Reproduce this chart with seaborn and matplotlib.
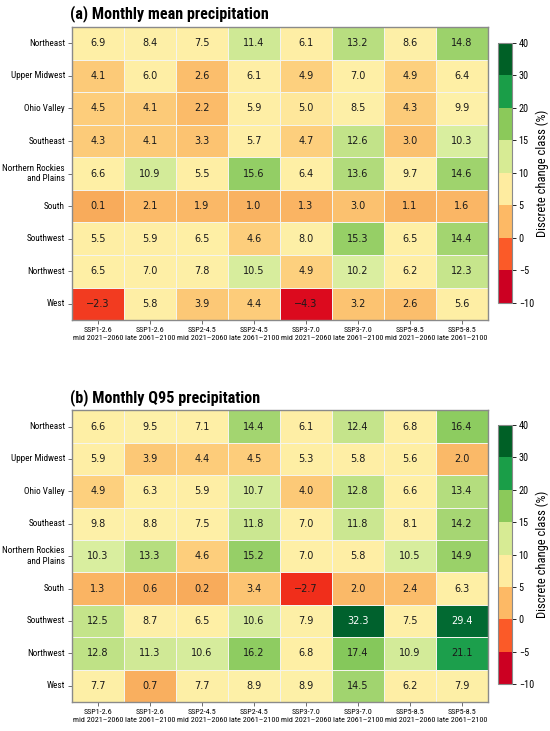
import numpy as np
import pandas as pd
import matplotlib
matplotlib.use("Agg")
import matplotlib.pyplot as plt
import matplotlib.colors as mcolors
import matplotlib.cm as cm
from matplotlib import font_manager
import seaborn as sns

regions = ["Northeast", "Upper Midwest", "Ohio Valley", "Southeast",
           "Northern Rockies\nand Plains", "South", "Southwest", "Northwest", "West"]
periods = ["SSP1-2.6\nmid 2021\u20132060", "SSP1-2.6\nlate 2061\u20132100",
           "SSP2-4.5\nmid 2021\u20132060", "SSP2-4.5\nlate 2061\u20132100",
           "SSP3-7.0\nmid 2021\u20132060", "SSP3-7.0\nlate 2061\u20132100",
           "SSP5-8.5\nmid 2021\u20132060", "SSP5-8.5\nlate 2061\u20132100"]

# (a) monthly mean precipitation change (%)
mean_precip = [
    [6.9, 8.4, 7.5, 11.4, 6.1, 13.2, 8.6, 14.8],
    [4.1, 6.0, 2.6, 6.1, 4.9, 7.0, 4.9, 6.4],
    [4.5, 4.1, 2.2, 5.9, 5.0, 8.5, 4.3, 9.9],
    [4.3, 4.1, 3.3, 5.7, 4.7, 12.6, 3.0, 10.3],
    [6.6, 10.9, 5.5, 15.6, 6.4, 13.6, 9.7, 14.6],
    [0.1, 2.1, 1.9, 1.0, 1.3, 3.0, 1.1, 1.6],
    [5.5, 5.9, 6.5, 4.6, 8.0, 15.3, 6.5, 14.4],
    [6.5, 7.0, 7.8, 10.5, 4.9, 10.2, 6.2, 12.3],
    [-2.3, 5.8, 3.9, 4.4, -4.3, 3.2, 2.6, 5.6],
]

# (b) monthly Q95 precipitation change (%)
q95_precip = [
    [6.6, 9.5, 7.1, 14.4, 6.1, 12.4, 6.8, 16.4],
    [5.9, 3.9, 4.4, 4.5, 5.3, 5.8, 5.6, 2.0],
    [4.9, 6.3, 5.9, 10.7, 4.0, 12.8, 6.6, 13.4],
    [9.8, 8.8, 7.5, 11.8, 7.0, 11.8, 8.1, 14.2],
    [10.3, 13.3, 4.6, 15.2, 7.0, 5.8, 10.5, 14.9],
    [1.3, 0.6, 0.2, 3.4, -2.7, 2.0, 2.4, 6.3],
    [12.5, 8.7, 6.5, 10.6, 7.9, 32.3, 7.5, 29.4],
    [12.8, 11.3, 10.6, 16.2, 6.8, 17.4, 10.9, 21.1],
    [7.7, 0.7, 7.7, 8.9, 8.9, 14.5, 6.2, 7.9],
]

class_bounds = [-10, -5, 0, 5, 10, 15, 20, 30, 40]
class_colors = ["#cc0022", "#fb5a28", "#fdb965", "#feeca0",
                "#d7eb94", "#8bc95a", "#1a9e48", "#006026"]

# cell colours: graded inside a class, stepped at 5 and 10
cell_nodes = [(-10, "#c4001f"), (-4.3, "#dc0a1e"), (-2.5, "#f2321b"),
              (0, "#f8aa5a"), (2.5, "#fbbd6b"), (4.99, "#fdd17f"),
              (5.0, "#feeea4"), (9.99, "#fdf0a8"), (10.0, "#dcefa2"),
              (12.5, "#c4e48a"), (15, "#98d068"), (17.5, "#84c85a"),
              (20, "#20a550"), (25, "#0d8a40"), (30, "#006630"), (40, "#005024")]
cell_cmap = mcolors.LinearSegmentedColormap.from_list(
    "cells", [((v + 10) / 50.0, c) for v, c in cell_nodes], N=2048)

# pick a narrow sans if there is one
installed = {f.name for f in font_manager.fontManager.ttflist}
narrow = [n for n in ["Roboto Condensed", "DejaVu Sans Condensed",
                      "Liberation Sans Narrow", "Open Sans Condensed", "Lato"]
          if n in installed][:1] + ["DejaVu Sans"]

fig = plt.figure(figsize=(5.5, 7.31), dpi=100)
renderer = fig.canvas.get_renderer()


def fit_size(text, target_px, weight="normal"):
    t = fig.text(0, 0, text, fontsize=10, family=narrow, fontweight=weight)
    w = t.get_window_extent(renderer).width
    t.remove()
    return 10 * target_px / w


title_fs = fit_size("(a) Monthly mean precipitation", 199, "bold")
ylab_fs = min(fit_size("Northeast", 39), fit_size("Northern Rockies", 62), 8)
xlab_fs = min(fit_size("late 2061\u20132100", 49), 8)
cbtick_fs = min(fit_size("40", 10), 8)
cblab_fs = min(fit_size("Discrete change class (%)", 150), 9)


def draw_panel(ax, cax, data, title):
    df = pd.DataFrame(data, index=regions, columns=periods)
    labels = df.map(lambda v: f"{v:.1f}".replace("-", "\u2212"))
    sns.heatmap(df, ax=ax, cmap=cell_cmap, vmin=-10, vmax=40,
                annot=labels, fmt="", cbar=False,
                linewidths=0.4, linecolor="#f4f4ee",
                annot_kws={"size": 7, "color": "#1a1a1a", "family": "DejaVu Sans"})
    for t, v in zip(ax.texts, df.values.ravel()):
        t.set_color("white" if v > 25 else "#1a1a1a")

    for s in ax.spines.values():
        s.set_visible(True)
        s.set_color("#8a8a8a")
        s.set_linewidth(1)
    ax.tick_params(axis="both", length=3, width=0.6, color="#555555", pad=2)
    ax.set_yticklabels(regions, rotation=0, family=narrow, fontsize=ylab_fs)
    ax.set_xticklabels(periods, rotation=0, family=narrow, fontsize=xlab_fs,
                       linespacing=1.35)
    ax.set_xlabel("")
    ax.set_ylabel("")
    ax.set_title(title, loc="left", x=-0.005, pad=6, fontsize=title_fs,
                 fontweight="bold", family=narrow)

    sm = cm.ScalarMappable(norm=mcolors.BoundaryNorm(class_bounds, len(class_colors)),
                           cmap=mcolors.ListedColormap(class_colors))
    cb = plt.colorbar(sm, cax=cax, ticks=class_bounds, spacing="uniform")
    cb.outline.set_edgecolor("#8a8a8a")
    cb.outline.set_linewidth(0.8)
    cax.tick_params(length=3, width=0.6, labelsize=cbtick_fs, pad=2)
    for lab in cax.get_yticklabels():
        lab.set_family(narrow)
    cb.set_label("Discrete change class (%)", fontsize=cblab_fs, family=narrow,
                 labelpad=1)


ax_a = fig.add_axes([0.131, 0.562, 0.756, 0.401])
cax_a = fig.add_axes([0.905, 0.5855, 0.0255, 0.3557])
ax_b = fig.add_axes([0.131, 0.0397, 0.756, 0.399])
cax_b = fig.add_axes([0.905, 0.0643, 0.0255, 0.3543])

draw_panel(ax_a, cax_a, mean_precip, "(a) Monthly mean precipitation")
draw_panel(ax_b, cax_b, q95_precip, "(b) Monthly Q95 precipitation")

fig.savefig("out.png", dpi=100, facecolor="white")
